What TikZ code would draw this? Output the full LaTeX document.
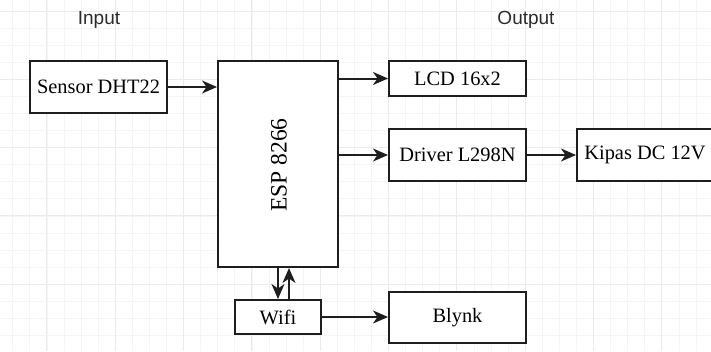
\documentclass[tikz,border=0pt]{standalone}
\usepackage{fontspec}
\setmainfont{Liberation Serif}
\setsansfont{Liberation Sans}
\usepackage{tikz}
\usetikzlibrary{arrows.meta, positioning}
\definecolor{lineclr}{HTML}{1E1E1E}
\definecolor{gridminor}{HTML}{F5F5F5}
\definecolor{gridmajor}{HTML}{EBEBEB}
\definecolor{headclr}{HTML}{2B2B2B}

\begin{document}
\begin{tikzpicture}[x=1pt, y=-1pt,
    box/.style={rectangle, draw=lineclr, fill=white, line width=2pt,
        inner sep=0pt, font=\fontsize{20.4}{24}\selectfont},
    heading/.style={font=\sffamily\fontsize{19}{23}\selectfont, text=headclr},
    arr/.style={-{Stealth[length=15pt, width=13pt, inset=4.5pt]}, line width=2pt, lineclr},
    gridline/.style={draw=gridminor, line width=0.8pt},
    gridbold/.style={draw=gridmajor, line width=1pt}
]
\clip (0,0) rectangle (711,351);
\useasboundingbox (0,0) rectangle (711,351);
% background grid
\foreach \i in {0,...,41} \draw[gridline] ({12.8+17.08*\i},0) -- ++(0,351);
\foreach \j in {0,...,20} \draw[gridline] (0,{11+17.08*\j}) -- ++(711,0);
\foreach \i in {0,...,10} \draw[gridbold] ({46.9+68.32*\i},0) -- ++(0,351);
\foreach \j in {0,...,5} \draw[gridbold] (0,{11+68.32*\j}) -- ++(711,0);

\node[heading] (input) at (99,20) {Input};
\node[heading] (output) at (526,20) {Output};

\node[box, minimum width=137pt, minimum height=52pt] (sensor) at (98.5,87) {Sensor DHT22};
\node[box, minimum width=120pt, minimum height=206pt] (esp) at (278,164) {};
\node[rotate=90, font=\fontsize{23.5}{28}\selectfont] (esplabel) at (279,165) {ESP 8266};
\node[box, minimum width=137pt, minimum height=35pt] (lcd) at (457.5,78.5) {LCD 16x2};
\node[box, minimum width=137pt, minimum height=52pt] (driver) at (457.5,155) {Driver L298N};
\node[box, minimum width=136pt, minimum height=52pt] (kipas) at (645,155) {Kipas DC 12V};
\node[box, minimum width=86pt, minimum height=34pt] (wifi) at (278,317) {Wifi};
\node[box, minimum width=137pt, minimum height=51pt] (blynk) at (457.5,317.5) {Blynk};

\draw[arr] (sensor.east) -- (sensor.east -| esp.west);
\draw[arr] (esp.east |- lcd.west) -- (lcd.west);
\draw[arr] (esp.east |- driver.west) -- (driver.west);
\draw[arr] (driver.east) -- (kipas.west);
\draw[arr] (esp.south) -- (wifi.north);
\draw[arr] ([xshift=11pt]wifi.north) -- ([xshift=11pt]wifi.north |- esp.south);
\draw[arr] (wifi.east) -- (wifi.east -| blynk.west);
\end{tikzpicture}
\end{document}
